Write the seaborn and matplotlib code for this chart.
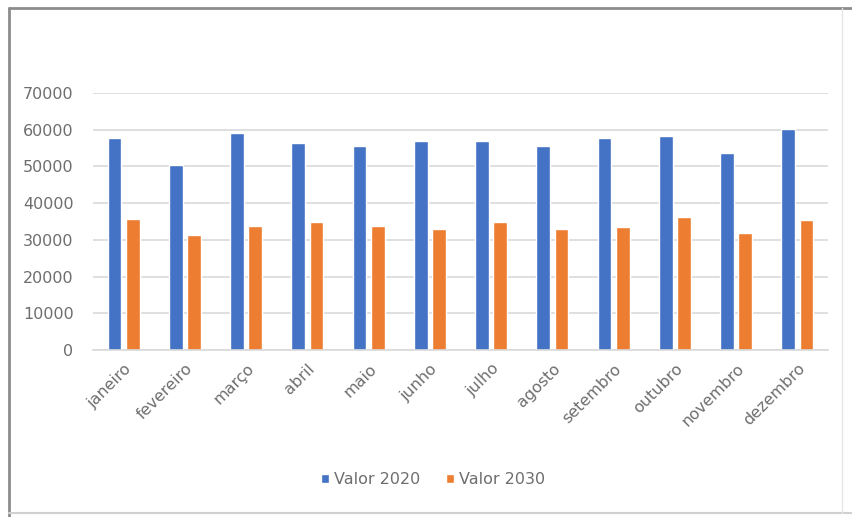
import matplotlib
matplotlib.use("Agg")
import matplotlib.pyplot as plt
from matplotlib.lines import Line2D
import pandas as pd
import seaborn as sns

meses = ["janeiro", "fevereiro", "março", "abril", "maio", "junho",
         "julho", "agosto", "setembro", "outubro", "novembro", "dezembro"]
valor_2020 = [57700, 50500, 59100, 56400, 55500, 57000,
              56800, 55500, 57700, 58200, 53600, 60300]
valor_2030 = [35600, 31400, 33900, 34800, 33800, 33000,
              35000, 33000, 33600, 36100, 31800, 35500]
series = ["Valor 2020", "Valor 2030"]
y_ticks = [0, 10000, 20000, 30000, 40000, 50000, 60000, 70000]

df = pd.DataFrame({
    "mes": meses * 2,
    "valor": valor_2020 + valor_2030,
    "serie": [series[0]] * len(meses) + [series[1]] * len(meses),
})

sns.set_theme(style="white")
plt.rcParams["font.family"] = ["DejaVu Sans"]

fig = plt.figure(figsize=(8.52, 5.17), dpi=100)
W, H = 852, 517
ax = fig.add_axes([93 / W, 1 - 350 / H, (828 - 93) / W, (350 - 93) / H])

sns.barplot(data=df, x="mes", y="valor", hue="serie", order=meses,
            hue_order=series, palette=["#4472C4", "#ED7D31"],
            width=0.6, gap=0.25, saturation=1, ax=ax, errorbar=None)

ax.set_ylim(0, 70000)
ax.set_xlim(-0.5, len(meses) - 0.5)
ax.set_yticks(y_ticks)
ax.set_yticklabels([str(v) for v in y_ticks])
ax.yaxis.grid(True, color="#D9D9D9", linewidth=1.2)
ax.set_axisbelow(True)
for s in ["top", "right", "left"]:
    ax.spines[s].set_visible(False)
ax.spines["bottom"].set_color("#D9D9D9")
ax.spines["bottom"].set_linewidth(1.2)
ax.set_xlabel("")
ax.set_ylabel("")
ax.tick_params(axis="y", length=0, pad=14, labelsize=11.5, labelcolor="#6E6E6E")
ax.tick_params(axis="x", length=0, pad=8, labelsize=11.5, labelcolor="#6E6E6E")
for lab in ax.get_xticklabels():
    lab.set_rotation(45)
    lab.set_ha("right")
    lab.set_rotation_mode("anchor")

handles, labels = ax.get_legend_handles_labels()
ax.get_legend().remove()
fig.legend(handles, labels, loc="center", bbox_to_anchor=(433 / W, 1 - 480 / H),
           ncol=2, frameon=False, handlelength=0.5, handleheight=0.5,
           handletextpad=0.3, columnspacing=1.6, fontsize=11.5,
           labelcolor="#6E6E6E")

# chart frame
fig.add_artist(Line2D([9 / W, 9 / W], [0, 1 - 8 / H], transform=fig.transFigure,
                      color="#8C8C8C", linewidth=2))
fig.add_artist(Line2D([9 / W, 1], [1 - 8 / H, 1 - 8 / H], transform=fig.transFigure,
                      color="#8C8C8C", linewidth=2))
fig.add_artist(Line2D([9 / W, 1], [1 - 513 / H, 1 - 513 / H], transform=fig.transFigure,
                      color="#D0D0D0", linewidth=1.5))
fig.add_artist(Line2D([842 / W, 842 / W], [1 - 513 / H, 1 - 8 / H], transform=fig.transFigure,
                      color="#E6E6E6", linewidth=1))

fig.savefig("out.png", dpi=100, facecolor="white")
